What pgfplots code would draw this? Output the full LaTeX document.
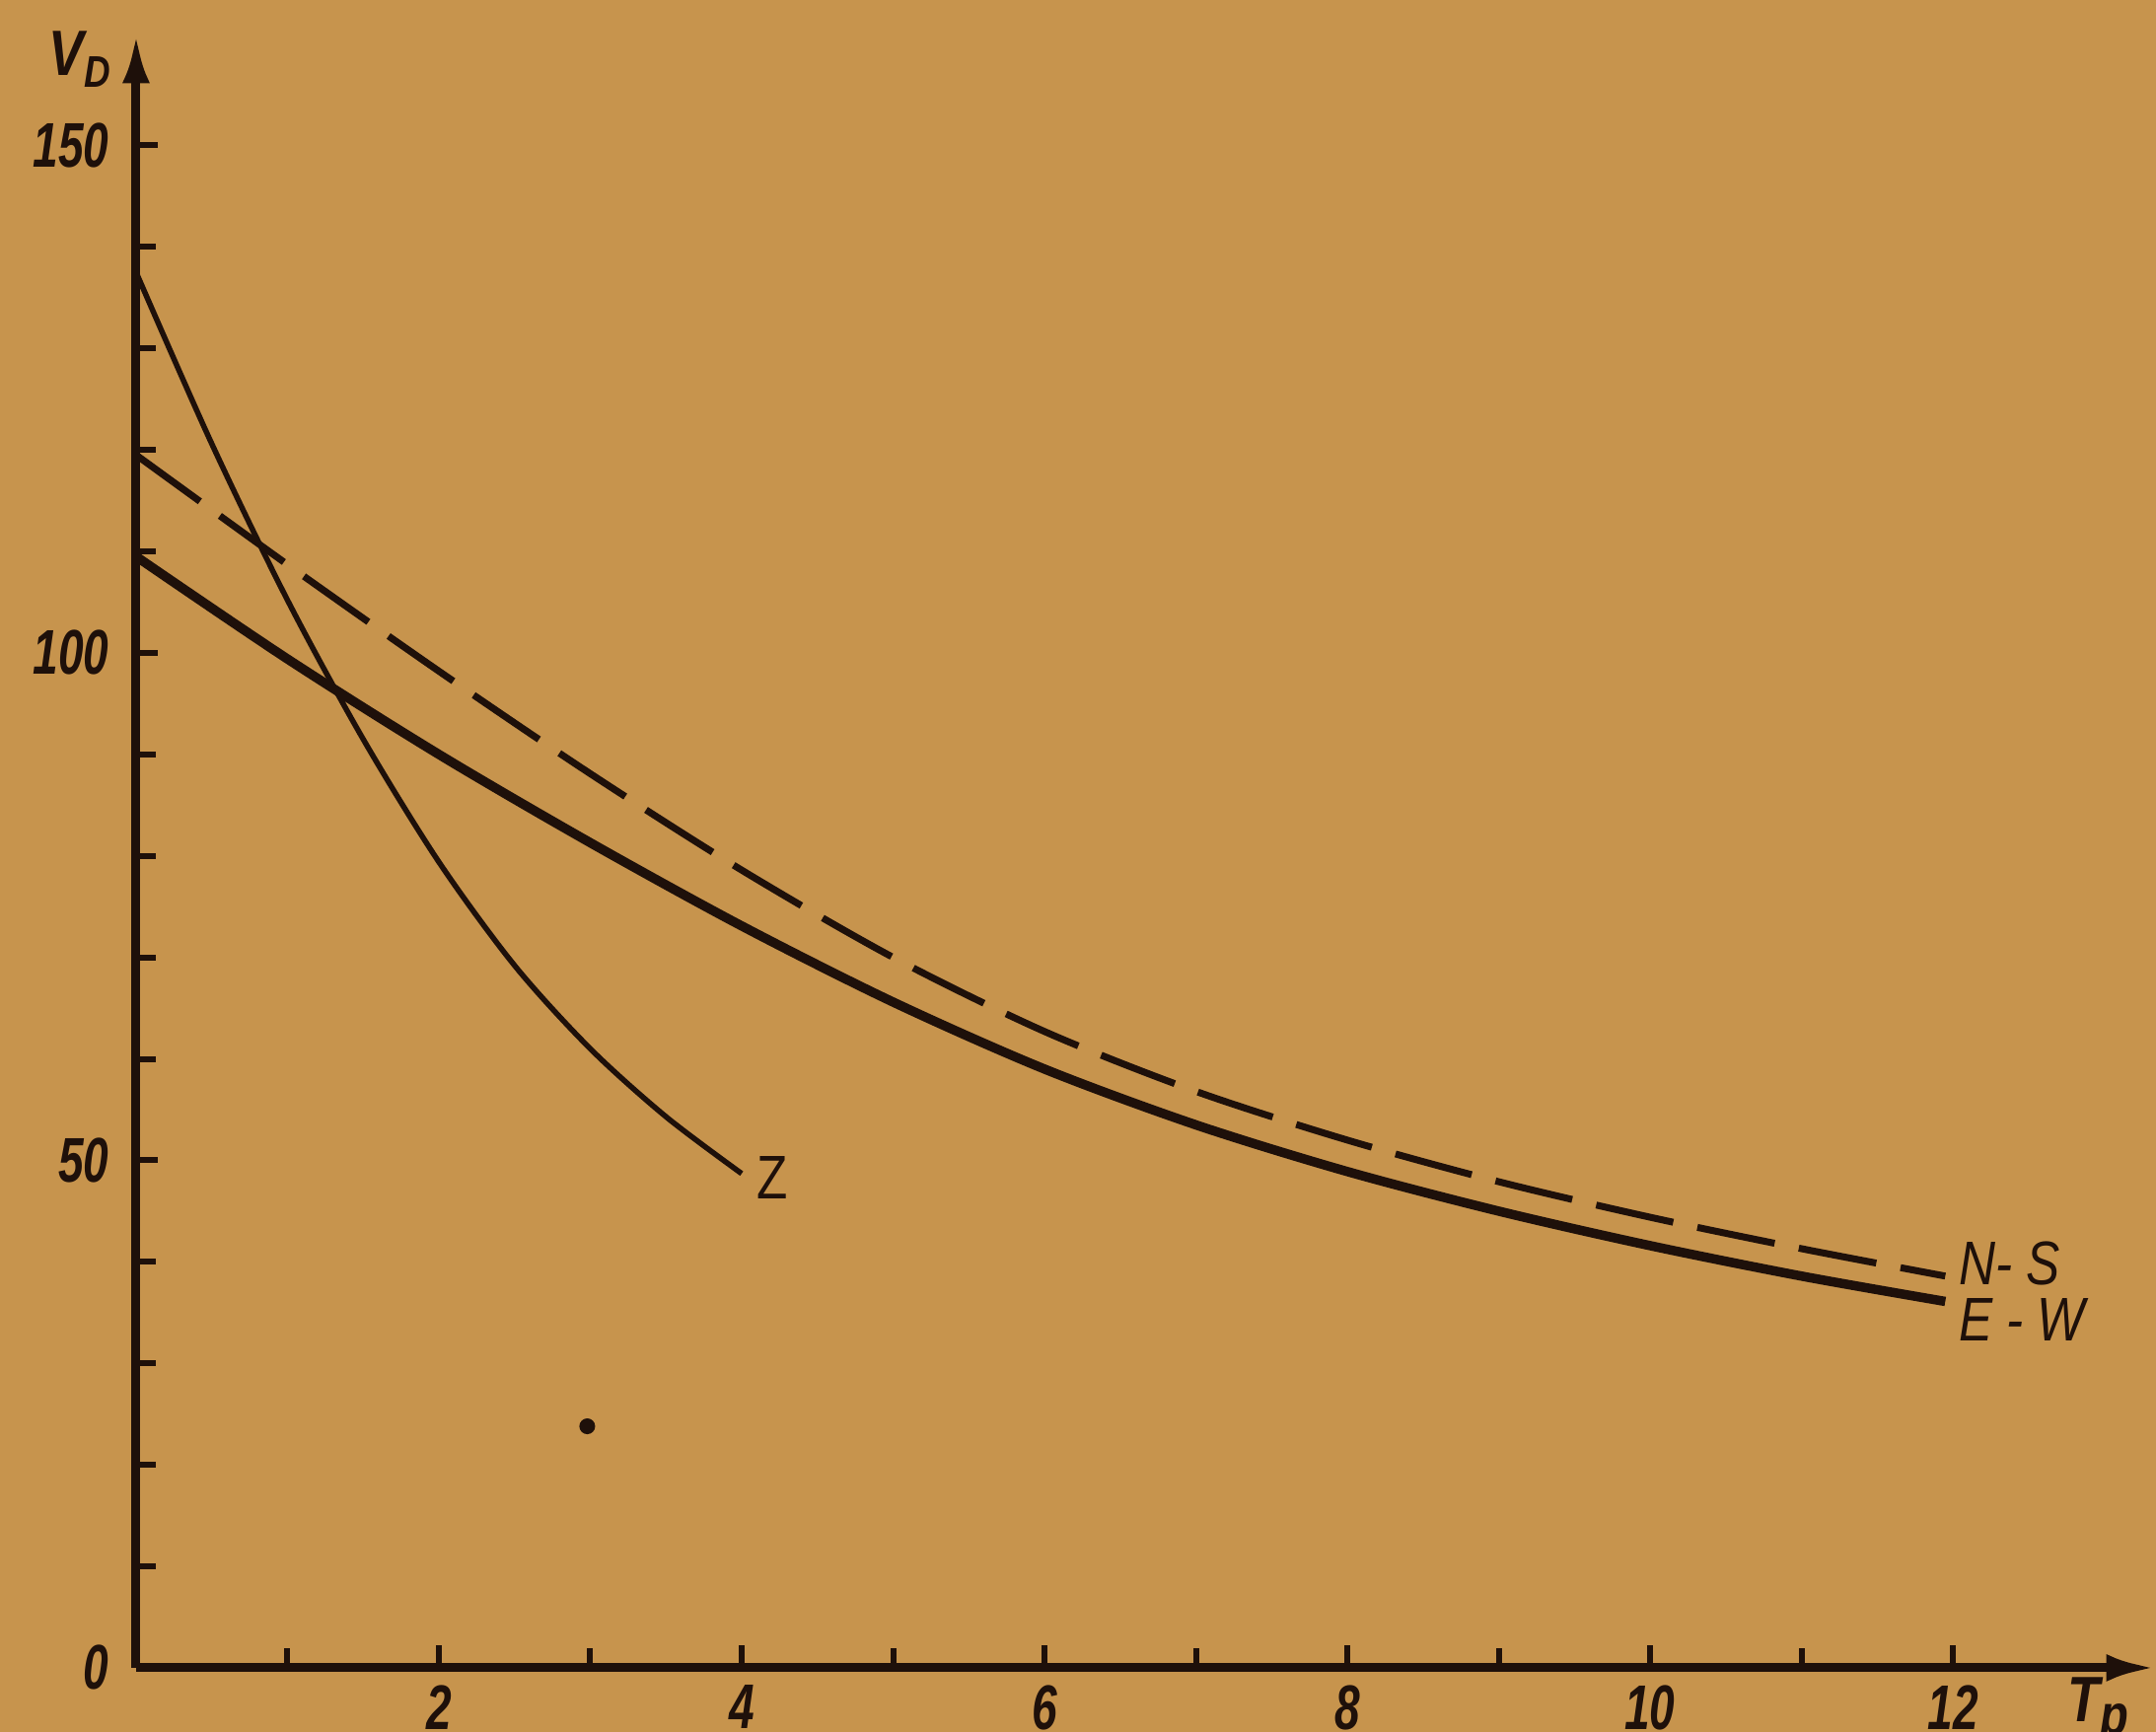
\documentclass[border=0pt]{standalone}
\usepackage{fontspec}
\usepackage{pgfplots}
\pgfplotsset{compat=1.18}
\usetikzlibrary{arrows.meta}
\newfontfamily\dinfont{Liberation Sans}[FakeStretch=0.72]
\newfontfamily\dinwide{Liberation Sans}[FakeStretch=0.82]
\definecolor{bgc}{RGB}{199,148,77}
\definecolor{ink}{RGB}{30,16,10}
\pgfdeclarelayer{background}
\pgfsetlayers{background,main}
\newcommand\tickfont{\dinfont\bfseries\itshape\fontsize{12.8}{14}\selectfont}
\newcommand\labit{\dinwide\itshape\fontsize{12.5}{14}\selectfont}
\newcommand\labup{\dinwide\fontsize{12.5}{14}\selectfont}
\newcommand\axlab{\dinwide\bfseries\itshape\fontsize{13}{14}\selectfont}
\begin{document}
\begin{tikzpicture}
\begin{axis}[
  x=30.7pt, y=2.058pt,
  xmin=0, xmax=13.34, ymin=0, ymax=161,
  axis lines=left,
  clip=false,
  axis line style={line width=1.8pt, color=ink, -{Latex[length=10pt,width=5.5pt]}},
  xtick={2,4,6,8,10,12},
  minor xtick={1,3,5,7,9,11},
  ytick={0,50,100,150},
  minor ytick={10,20,30,40,60,70,80,90,110,120,130,140},
  tick align=inside,
  major tick length=4.5pt,
  minor tick length=4pt,
  tick style={line width=1.2pt, color=ink},
  /pgf/number format/assume math mode=true,
  xticklabel style={font=\tickfont, text=ink},
  yticklabel style={font=\tickfont, text=ink, xshift=-2pt},
]
\coordinate (bl) at (axis cs:-0.899,-6.317);
\coordinate (tr) at (axis cs:13.342,164.33);

% Z curve
\addplot[ink, line width=1.1pt, smooth] coordinates {
 (0,137.5) (0.5,120.6) (1.0,105.2) (1.5,91.5) (2.0,79.4) (2.5,69.2)
 (3.0,61.0) (3.5,54.3) (4.0,48.7)
};
% N-S curve (dashed)
\addplot[ink, line width=1.4pt, smooth, dash pattern=on 16pt off 5pt] coordinates {
 (0,119.5) (1,108.7) (2,98.2) (3,88.1) (4,78.6) (5,70.0) (6,62.7)
 (7,56.8) (8,52.0) (9,47.9) (10,44.4) (11,41.3) (11.95,38.6)
};
% E-W curve (thick solid)
\addplot[ink, line width=1.9pt, smooth] coordinates {
 (0,109.5) (1,99.4) (2,90.0) (3,81.3) (4,73.1) (5,65.6) (6,59.0)
 (7,53.5) (8,48.9) (9,45.0) (10,41.6) (11,38.6) (11.95,36.1)
};
% stray dot
\addplot[ink, only marks, mark=*, mark size=1.4pt] coordinates {(2.98,23.8)};

\node[anchor=west, font=\labup, text=ink, inner sep=1pt] at (axis cs:4.06,48.3) {Z};
\node[anchor=west, font=\labit, text=ink, inner sep=1pt] at (axis cs:12.0,39.8) {N- S};
\node[anchor=west, font=\labit, text=ink, inner sep=1pt] at (axis cs:12.0,34.3) {E - W};
\node[anchor=east, font=\axlab, text=ink, inner sep=1pt] at (axis cs:-0.13,158.5) {V\raisebox{-2.5pt}{\fontsize{9}{9}\selectfont D}};
\node[anchor=north west, font=\axlab, text=ink, inner sep=1pt] at (axis cs:12.72,-0.4) {T\raisebox{-2.5pt}{\fontsize{11.5}{11}\selectfont p}};
\end{axis}
\begin{pgfonlayer}{background}
\fill[bgc] (bl) rectangle (tr);
\end{pgfonlayer}
\pgfresetboundingbox
\path[use as bounding box] (bl) rectangle (tr);
\end{tikzpicture}
\end{document}
